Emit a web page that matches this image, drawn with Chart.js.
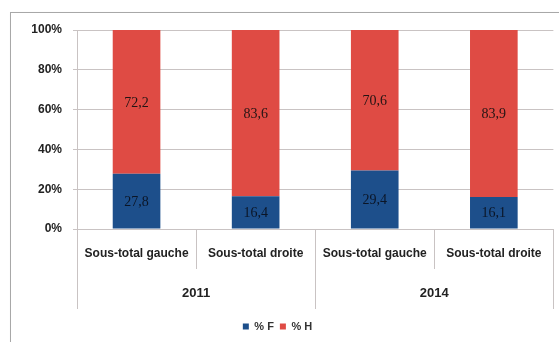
<!DOCTYPE html>
<html>
<head>
<meta charset="utf-8">
<script src="https://cdn.jsdelivr.net/npm/chart.js@4.4.0/dist/chart.umd.min.js"></script>
<style>
  html, body { margin: 0; padding: 0; background: #ffffff; }
  #wrap { position: relative; width: 559px; height: 342px; overflow: hidden; }
  #frame { position: absolute; left: 10px; top: 12px; width: 600px; height: 400px; border: 1px solid #a8a8a8; box-shadow: 1px 1px 2px rgba(0,0,0,0.15); }
  canvas { position: absolute; left: 0; top: 0; }
</style>
</head>
<body>
<div id="wrap">
  <div id="frame"></div>
  <canvas id="c" width="559" height="342"></canvas>
</div>
<script>
const categories = ['Sous-total gauche', 'Sous-total droite', 'Sous-total gauche', 'Sous-total droite'];
const years = ['2011', '2014'];
const pctF = [27.8, 16.4, 29.4, 16.1];
const pctH = [72.2, 83.6, 70.6, 83.9];
const yTicks = [0, 20, 40, 60, 80, 100];

const gridColor = '#c9c3c3';
const labelFont = "'Liberation Sans', Arial, sans-serif";

const groupPlugin = {
  id: 'groups',
  afterDraw(chart) {
    const ctx = chart.ctx;
    const xs = chart.scales.x;
    const top = chart.chartArea.bottom;
    const n = categories.length;
    const per = n / years.length;
    const half = (xs.getPixelForValue(1) - xs.getPixelForValue(0)) / 2;
    ctx.save();
    ctx.strokeStyle = gridColor;
    ctx.lineWidth = 1;
    for (let i = 0; i <= n; i++) {
      const x = Math.round(i < n ? xs.getPixelForValue(i) - half : xs.getPixelForValue(n - 1) + half) + 0.5;
      const long = i % per === 0;
      ctx.beginPath();
      ctx.moveTo(x, top);
      ctx.lineTo(x, top + (long ? 80 : 40));
      ctx.stroke();
    }
    ctx.fillStyle = '#222';
    ctx.font = "bold 13px " + labelFont;
    ctx.textAlign = 'center';
    ctx.textBaseline = 'middle';
    years.forEach((yr, g) => {
      const a = xs.getPixelForValue(g * per);
      const b = xs.getPixelForValue(g * per + per - 1);
      ctx.fillText(yr, (a + b) / 2, top + 64);
    });
    ctx.restore();
  }
};

const valueLabels = {
  id: 'valueLabels',
  afterDatasetsDraw(chart) {
    const ctx = chart.ctx;
    ctx.save();
    ctx.font = "14px 'Liberation Serif', 'DejaVu Serif', serif";
    ctx.textAlign = 'center';
    ctx.textBaseline = 'middle';
    chart.data.datasets.forEach((ds, di) => {
      const meta = chart.getDatasetMeta(di);
      meta.data.forEach((el, i) => {
        const v = ds.data[i];
        ctx.fillStyle = di === 0 ? '#0b1526' : '#221414';
        ctx.fillText(v.toFixed(1).replace('.', ','), el.x, (el.y + el.base) / 2 + 1);
      });
    });
    ctx.restore();
  }
};

new Chart(document.getElementById('c'), {
  type: 'bar',
  data: {
    labels: categories,
    datasets: [
      { label: '% F', data: pctF, backgroundColor: '#1d4f8b', barPercentage: 0.4, categoryPercentage: 1 },
      { label: '% H', data: pctH, backgroundColor: '#df4b44', barPercentage: 0.4, categoryPercentage: 1 }
    ]
  },
  options: {
    responsive: false,
    animation: false,
    devicePixelRatio: 1,
    layout: { padding: { top: 30, right: 4, left: 0, bottom: 0 } },
    plugins: {
      legend: {
        position: 'bottom',
        labels: {
          boxWidth: 6, boxHeight: 6, padding: 6,
          color: '#333',
          font: { family: labelFont, size: 11, weight: 'bold' }
        }
      },
      tooltip: { enabled: false }
    },
    scales: {
      x: {
        stacked: true,
        grid: { display: false, drawTicks: false },
        border: { display: false },
        ticks: {
          padding: 17,
          color: '#222',
          maxRotation: 0,
          autoSkip: false,
          font: { family: labelFont, size: 12, weight: 'bold' }
        },
        afterFit(s) { s.height = 86; }
      },
      y: {
        stacked: true,
        min: 0, max: 100,
        afterBuildTicks(s) { s.ticks = yTicks.map(v => ({ value: v })); },
        grid: { color: gridColor, tickLength: 4 },
        border: { color: gridColor },
        ticks: {
          padding: 11,
          color: '#222',
          font: { family: labelFont, size: 12, weight: 'bold' },
          callback: v => v + '%'
        },
        afterFit(s) { s.width = 77; }
      }
    }
  },
  plugins: [groupPlugin, valueLabels]
});
</script>
</body>
</html>
